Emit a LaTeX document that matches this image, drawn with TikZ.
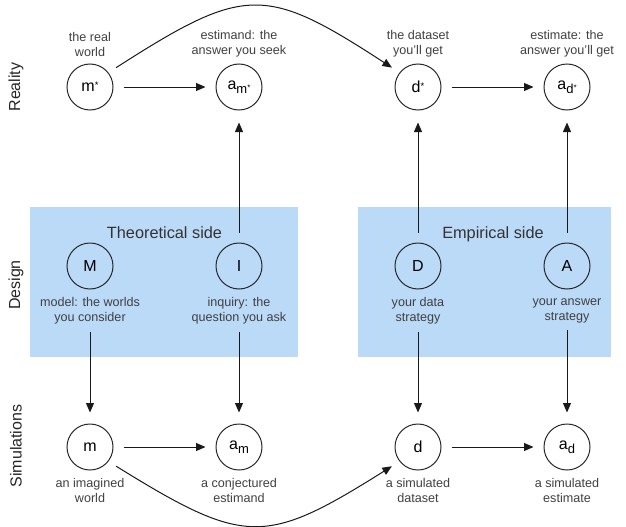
\documentclass[tikz,border=0pt]{standalone}
\usepackage{fontspec}
\setmainfont{Liberation Sans}
\usetikzlibrary{arrows.meta}
\definecolor{boxblue}{RGB}{187,218,248}
\definecolor{labgray}{RGB}{64,64,64}
\definecolor{linegray}{RGB}{40,40,40}
\newcommand\supstar{\raisebox{3.4pt}{\fontsize{9.5}{9.5}\selectfont *}}
\newcommand\subsmall[1]{\raisebox{-3.6pt}{\fontsize{13}{13}\selectfont #1}}
\newcommand\subsup{\raisebox{2.6pt}{\fontsize{8}{8}\selectfont *}}
\begin{document}
\begin{tikzpicture}[x=1pt,y=-1pt,
  st/.style={circle,draw=linegray,line width=1pt,minimum size=46pt,inner sep=0pt,
    font=\fontsize{16}{16}\selectfont,text=black},
  lab/.style={align=center,font=\fontsize{12.6}{15}\selectfont,text=labgray,inner sep=1pt},
  ttl/.style={font=\fontsize{16.3}{18}\selectfont,text=black!80,anchor=base},
  rowlab/.style={font=\fontsize{16}{18}\selectfont,text=black!85,rotate=90},
  arr/.style={-{Triangle[length=9.5pt,width=8pt]},line width=1pt,draw=black!90},
  hz/.style={arr,shorten <=10pt,shorten >=10pt}
]
\useasboundingbox (0,0) rectangle (626,527);
% design boxes
\fill[boxblue] (30,207) rectangle (298,357);
\fill[boxblue] (358,207) rectangle (611,357);
% row labels
\node[rowlab] (rreal) at (16,87) {Reality};
\node[rowlab] (rdes) at (16,285) {Design};
\node[rowlab] (rsim) at (16,446) {Simulations};
% titles
\node[ttl] (ttheo) at (164.5,238) {Theoretical side};
\node[ttl] (temp) at (493,238) {Empirical side};
% reality
\node[st] (mstar) at (90,87) {m\supstar};
\node[st] (amstar) at (239,87) {a\subsmall{m\subsup}};
\node[st] (dstar) at (418,87) {d\supstar};
\node[st] (adstar) at (567,87) {a\subsmall{d\subsup}};
\node[lab] (lmstar) at (90,44) {the real\\world};
\node[lab] (lamstar) at (239,44) {estimand: the\\answer you seek};
\node[lab] (ldstar) at (418,44) {the dataset\\you'll get};
\node[lab] (ladstar) at (567,44) {estimate: the\\answer you'll get};
% design
\node[st] (M) at (90,266) {M};
\node[st] (I) at (239,266) {I};
\node[st] (D) at (418,266) {D};
\node[st] (A) at (567,266) {A};
\node[lab] (lM) at (90,311) {model: the worlds\\you consider};
\node[lab] (lI) at (239,311) {inquiry: the\\question you ask};
\node[lab] (lD) at (418,311) {your data\\strategy};
\node[lab] (lA) at (567,311) {your answer\\strategy};
% simulations
\node[st] (m) at (90,447) {m};
\node[st] (am) at (239,447) {a\subsmall{m}};
\node[st] (d) at (418,447) {d};
\node[st] (ad) at (567,447) {a\subsmall{d}};
\node[lab] (lm) at (90,490) {an imagined\\world};
\node[lab] (lam) at (239,490) {a conjectured\\estimand};
\node[lab] (ld) at (418,490) {a simulated\\dataset};
\node[lab] (lad) at (567,490) {a simulated\\estimate};
% horizontal arrows
\draw[hz] (mstar) -- (amstar);
\draw[hz] (dstar) -- (adstar);
\draw[hz] (m) -- (am);
\draw[hz] (d) -- (ad);
% upward arrows
\draw[arr,shorten <=10pt,shorten >=12pt] (I) -- (amstar);
\draw[arr,shorten <=10pt,shorten >=12pt] (D) -- (dstar);
\draw[arr,shorten <=10pt,shorten >=12pt] (A) -- (adstar);
% downward arrows
\draw[arr,shorten <=6pt,shorten >=11pt] (lM) -- (m);
\draw[arr,shorten <=6pt,shorten >=11pt] (lI) -- (am);
\draw[arr,shorten <=6pt,shorten >=11pt] (lD) -- (d);
\draw[arr,shorten <=6pt,shorten >=11pt] (lA) -- (ad);
% curved arrows
\draw[arr,shorten <=9pt,shorten >=9pt] (mstar.38) .. controls (245,-15) and (265,-15) .. (dstar.142);
\draw[arr,shorten <=9pt,shorten >=9pt] (m.-38) .. controls (245,546) and (265,546) .. (d.-142);
\end{tikzpicture}
\end{document}
